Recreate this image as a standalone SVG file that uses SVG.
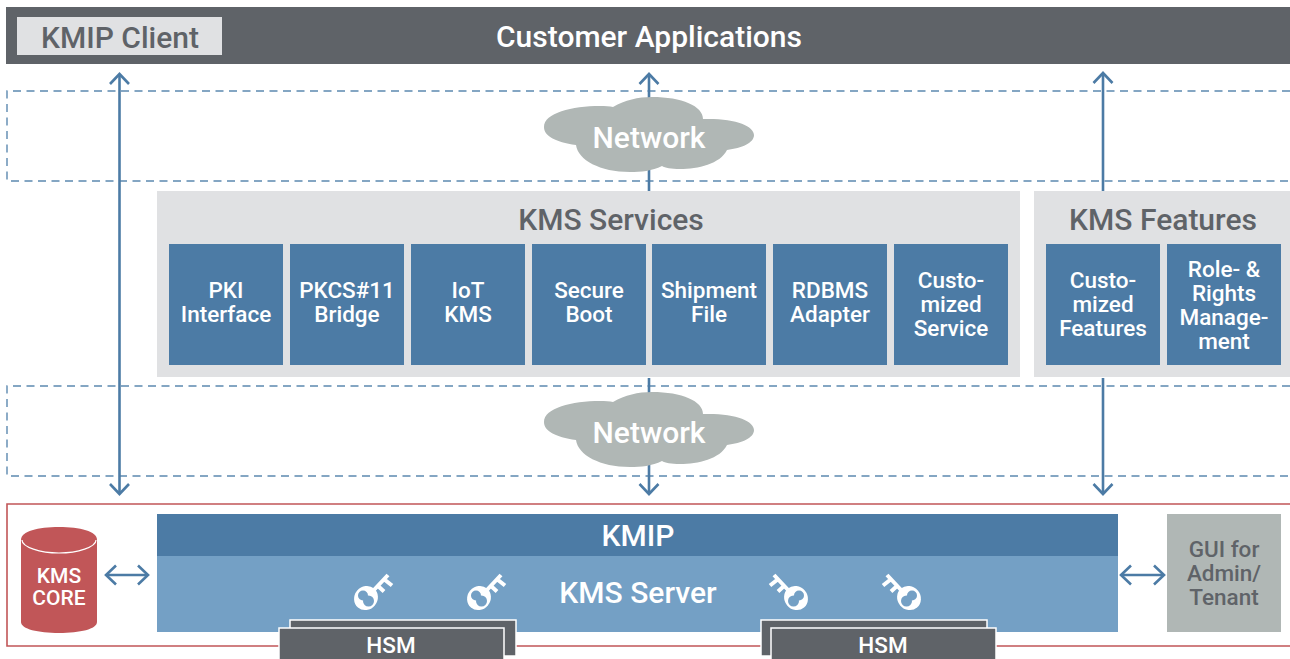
<svg xmlns="http://www.w3.org/2000/svg" width="1290" height="659" viewBox="0 0 1290 659">
<style>
text{font-family:Roboto,"Noto Sans","Liberation Sans",sans-serif;font-weight:500;text-anchor:middle}
.t{font-size:22.5px;fill:#fff}
.c{font-size:21px;fill:#fff}
.h{font-size:30px}
.w{fill:#fff}.g{fill:#5f6368}
.tile{fill:#4c7ba5}
.dash{fill:none;stroke:#5c89b0;stroke-width:1.400;stroke-dasharray:8 5.500}
.conn{fill:none;stroke:#4c7ba5;stroke-width:2.600;marker-end:url(#a)}
.both{marker-start:url(#a)}
.key{fill:none;stroke:#fff;stroke-width:4}
.hole{fill:#74a0c5}
</style>
<defs>
<marker id="a" viewBox="-11 -11 13 22" refX="0" refY="0" markerUnits="userSpaceOnUse" markerWidth="13" markerHeight="22" orient="auto-start-reverse"><path d="M-10-9.500L0 0L-10 9.500" fill="none" stroke="#4c7ba5" stroke-width="2.600"/></marker>
<path id="cloud" fill="#b0b7b5" d="M613 107C625 100 638 97 652 97C682 97 703 106 703 119C735 118 754 126 754 135C754 143 742 148 727 150C720 164 698 169 680 169C671 169 665 168 662 166C652 171 641 172 630 172C600 172 578 160 576 145C555 142 544 136 544 127C544 113 572 106 600 106C605 106 610 106 613 107Z"/>
<g id="key"><ellipse cx="0" cy="0" rx="11.500" ry="12.500" fill="#fff" transform="rotate(40)"/><circle class="hole" cx="-3" cy="-2.500" r="5"/><circle class="hole" cx="2.500" cy="3" r="5.500"/><path class="key" d="M7-7L22-23M12-12L18-6.500M19-18L26-12.500"/></g>
</defs>
<rect x="6" y="7" width="1284" height="57" class="g" id="bar"/>
<g id="dashed"><path class="dash" d="M1290 91H7V181H1290M1290 386H7V476H1290"/></g>
<g id="connectors">
<path class="conn both" d="M119.500 494V74"/>
<path class="conn" d="M649 191V74"/>
<path class="conn" d="M649 378V494"/>
<path class="conn" d="M1103 191V73"/>
<path class="conn" d="M1103 378V494"/>
<path class="conn both" d="M106 575H148"/>
<path class="conn both" d="M1121 575H1164"/>
</g>
<g id="client"><rect x="17" y="17" width="205" height="38" fill="#e0e1e3"/><text x="120" y="48" class="h g">KMIP Client</text></g>
<g id="apps"><text x="649" y="47" class="h w">Customer Applications</text></g>
<g id="network1"><use href="#cloud"/><text x="649" y="148" class="h w">Network</text></g>
<g id="network2"><use href="#cloud" y="295"/><text x="649" y="443" class="h w">Network</text></g>
<g id="services"><rect x="157" y="191" width="863" height="186" fill="#e0e1e3"/><text x="611" y="230" class="h g">KMS Services</text></g>
<g id="features"><rect x="1034" y="191" width="256" height="186" fill="#e0e1e3"/><text x="1163" y="230" class="h g">KMS Features</text></g>
<g id="pki"><rect class="tile" x="169" y="244" width="114" height="121"/><text class="t" x="226" y="298">PKI</text><text class="t" x="226" y="322">Interface</text></g>
<g id="pkcs"><rect class="tile" x="290" y="244" width="114" height="121"/><text class="t" x="347" y="298">PKCS#11</text><text class="t" x="347" y="322">Bridge</text></g>
<g id="iot"><rect class="tile" x="411" y="244" width="114" height="121"/><text class="t" x="468" y="298">IoT</text><text class="t" x="468" y="322">KMS</text></g>
<g id="boot"><rect class="tile" x="532" y="244" width="114" height="121"/><text class="t" x="589" y="298">Secure</text><text class="t" x="589" y="322">Boot</text></g>
<g id="ship"><rect class="tile" x="652" y="244" width="114" height="121"/><text class="t" x="709" y="298">Shipment</text><text class="t" x="709" y="322">File</text></g>
<g id="rdbms"><rect class="tile" x="773" y="244" width="114" height="121"/><text class="t" x="830" y="298">RDBMS</text><text class="t" x="830" y="322">Adapter</text></g>
<g id="custom"><rect class="tile" x="894" y="244" width="114" height="121"/><text class="t" x="951" y="288">Custo-</text><text class="t" x="951" y="312">mized</text><text class="t" x="951" y="336">Service</text></g>
<g id="customf"><rect class="tile" x="1046" y="244" width="114" height="121"/><text class="t" x="1103" y="288">Custo-</text><text class="t" x="1103" y="312">mized</text><text class="t" x="1103" y="336">Features</text></g>
<g id="role"><rect class="tile" x="1167" y="244" width="114" height="121"/><text class="t" x="1224" y="277">Role- &amp;</text><text class="t" x="1224" y="301">Rights</text><text class="t" x="1224" y="325">Manage-</text><text class="t" x="1224" y="349">ment</text></g>
<g id="server-frame"><path d="M1290 504H7V646H1290" fill="none" stroke="#c15658" stroke-width="1.600"/></g>
<g id="core"><path fill="#c15658" d="M21 540C21 531 38 527 59 527C80 527 97 531 97 540V622C97 629 80 633 59 633C38 633 21 629 21 622Z"/><path d="M22 540C22 547 40 553 59 553C78 553 96 547 96 540" fill="none" stroke="#fff" stroke-width="1.200"/><text class="c" x="59" y="583">KMS</text><text class="c" x="59" y="605">CORE</text></g>
<g id="kmip"><rect x="157" y="514" width="961" height="42" fill="#4c7ba5"/><text x="638" y="546" class="h w">KMIP</text></g>
<g id="server"><rect x="157" y="556" width="961" height="76" fill="#74a0c5"/><text x="638" y="603" class="h w">KMS Server</text>
<use href="#key" x="366" y="598"/><use href="#key" x="479" y="598"/><use href="#key" transform="translate(796 598) scale(-1 1)"/><use href="#key" transform="translate(909 598) scale(-1 1)"/></g>
<g id="gui"><rect x="1167" y="514" width="114" height="118" fill="#b0b7b5"/><text class="t" style="fill:#5f6368" x="1224" y="557">GUI for</text><text class="t" style="fill:#5f6368" x="1224" y="581">Admin/</text><text class="t" style="fill:#5f6368" x="1224" y="605">Tenant</text></g>
<g id="hsm1"><rect x="290" y="620" width="226" height="36" class="g" stroke="#fff" stroke-width="1.500"/><rect x="279" y="628" width="225" height="34" class="g" stroke="#fff" stroke-width="1.500"/><text class="t" x="391" y="653">HSM</text></g>
<g id="hsm2"><rect x="761" y="620" width="226" height="36" class="g" stroke="#fff" stroke-width="1.500"/><rect x="771" y="628" width="225" height="34" class="g" stroke="#fff" stroke-width="1.500"/><text class="t" x="883" y="653">HSM</text></g>
</svg>
